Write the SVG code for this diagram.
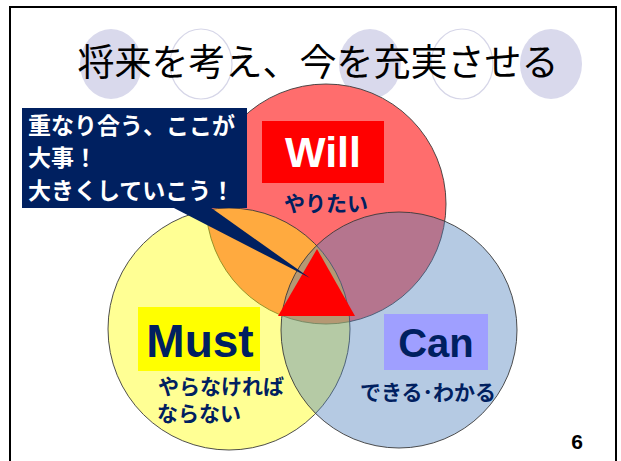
<svg xmlns="http://www.w3.org/2000/svg" width="621" height="461" viewBox="0 0 621 461">
<style>
.deco-f{fill:#d9d9ec;stroke:none}
.deco-o{fill:none;stroke:#d6d6e8;stroke-width:1.2}
.circ{stroke:#3a3a3a;stroke-width:0.9}
.jp{font-family:"Noto Sans CJK JP","Noto Sans",sans-serif}
.lbl{font-family:"Liberation Sans",Arial,sans-serif;font-weight:bold}
.navy{fill:#002060}
</style>
<rect x="0" y="0" width="621" height="461" fill="#ffffff"/>
<rect x="10" y="7" width="606" height="470" fill="none" stroke="#000" stroke-width="2"/>
<g id="title-decor">
<ellipse class="deco-f" cx="111" cy="64" rx="31" ry="35"/>
<ellipse class="deco-o" cx="201" cy="64" rx="31" ry="35"/>
<ellipse class="deco-f" cx="370" cy="64" rx="31" ry="35"/>
<ellipse class="deco-o" cx="462" cy="64" rx="31" ry="35"/>
<ellipse class="deco-f" cx="551" cy="64" rx="31" ry="35"/>
</g>
<g id="title"><text class="jp" x="318" y="76" font-size="37" text-anchor="middle" fill="#000">将来を考え、今を充実させる</text></g>
<g id="will-circle"><circle class="circ" cx="326" cy="204" r="120" fill="#ff6d6d"/></g>
<g id="must-circle"><circle class="circ" cx="229" cy="329" r="121" fill="#ffff00" fill-opacity="0.42"/></g>
<g id="can-circle"><circle class="circ" cx="399" cy="330" r="118" fill="#4f81bd" fill-opacity="0.42"/></g>
<g id="core"><polygon points="317,249 278,316 355,316" fill="#ff0000"/></g>
<g id="will">
<rect x="262" y="121" width="122" height="62" fill="#ff0000"/>
<text class="lbl" x="323" y="167" font-size="43" text-anchor="middle" fill="#ffffff">Will</text>
<text class="jp navy" x="326" y="211" font-size="21" font-weight="bold" text-anchor="middle">やりたい</text>
</g>
<g id="must">
<rect x="138" y="307" width="122" height="64" fill="#ffff00"/>
<text class="lbl navy" x="200" y="357" font-size="46" text-anchor="middle">Must</text>
<text class="jp navy" x="158" y="394" font-size="21" font-weight="bold">やらなければ</text>
<text class="jp navy" x="157" y="421" font-size="21" font-weight="bold">ならない</text>
</g>
<g id="can">
<rect x="384" y="314" width="104" height="56" fill="#9f9fff"/>
<text class="lbl navy" x="436" y="357" font-size="40" text-anchor="middle">Can</text>
<text class="jp navy" x="428" y="400" font-size="21" font-weight="bold" text-anchor="middle">できる･わかる</text>
</g>
<g id="callout">
<rect x="22" y="108" width="225" height="100" fill="#002060"/>
<polygon points="172,207 210,207 310,278" fill="#002060"/>
<text class="jp" x="28" y="134" font-size="23" font-weight="bold" fill="#ffffff">重なり合う、ここが</text>
<text class="jp" x="28" y="166" font-size="23" font-weight="bold" fill="#ffffff">大事！</text>
<text class="jp" x="28" y="199" font-size="23" font-weight="bold" fill="#ffffff">大きくしていこう！</text>
</g>
<g id="connectors"></g>
<g id="page"><text class="lbl" x="577" y="449" font-size="21" text-anchor="middle" fill="#000">6</text></g>
</svg>
